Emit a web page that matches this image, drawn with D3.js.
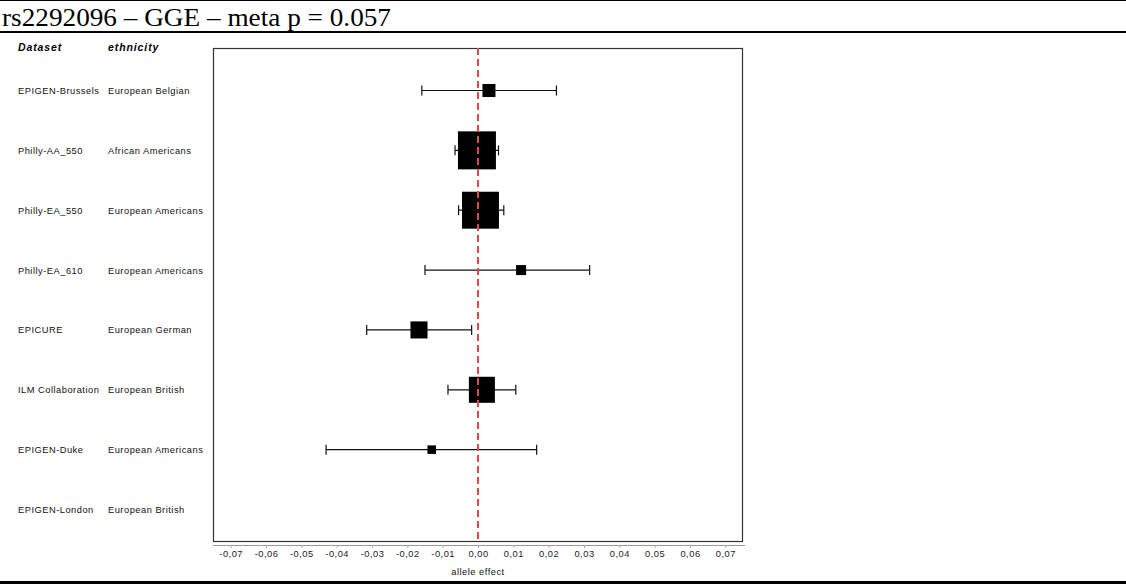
<!DOCTYPE html>
<html>
<head>
<meta charset="utf-8">
<script src="https://cdn.jsdelivr.net/npm/d3@7"></script>
<style>
html,body{margin:0;padding:0;background:#fff;}
svg{display:block;}
</style>
</head>
<body>
<svg id="chart" width="1126" height="584"></svg>
<script>
const titleText = "rs2292096 \u2013 GGE \u2013 meta p = 0.057";
const datasets = ["EPIGEN-Brussels","Philly-AA_550","Philly-EA_550","Philly-EA_610","EPICURE","ILM Collaboration","EPIGEN-Duke","EPIGEN-London"];
const ethnicities = ["European Belgian","African Americans","European Americans","European Americans","European German","European British","European Americans","European British"];
const effects = [0.0031, -0.0003, 0.0007, 0.0122, -0.0167, 0.0011, -0.0131, null];
const ciLow  = [-0.0159, -0.0065, -0.0055, -0.0150, -0.0315, -0.0085, -0.0430, null];
const ciHigh = [0.0222, 0.0058, 0.0073, 0.0316, -0.0018, 0.0107, 0.0166, null];
const weights = [8.7, 25.4, 24.7, 6.7, 11.4, 17.4, 5.7, null];
const tickValues = [-0.07,-0.06,-0.05,-0.04,-0.03,-0.02,-0.01,0,0.01,0.02,0.03,0.04,0.05,0.06,0.07];
const xLabel = "allele effect";

const svg = d3.select("#chart");
const W = 1126, H = 584;
const plot = {left:213, top:48, right:743, bottom:542};

const x = d3.scaleLinear().domain([-0.075, 0.075]).range([plot.left, plot.right]);
const y = d3.scalePoint().domain(datasets).range([90.5, 509.5]);
const size = d3.scaleLinear().domain([0, 25.4]).range([0, 38]);

// frame lines
svg.append("line").attr("x1",0).attr("x2",W).attr("y1",0.5).attr("y2",0.5).attr("stroke","#000").attr("stroke-width",1);
svg.append("line").attr("x1",0).attr("x2",W).attr("y1",32).attr("y2",32).attr("stroke","#000").attr("stroke-width",2);
svg.append("rect").attr("x",0).attr("y",581).attr("width",W).attr("height",3).attr("fill","#000");

// title
svg.append("text").attr("x",2).attr("y",26)
  .attr("font-family","'Liberation Serif','Times New Roman',serif").attr("font-size",24.5)
  .attr("textLength",389).attr("lengthAdjust","spacingAndGlyphs")
  .attr("fill","#000").text(titleText);

// column headers
const sansFont = "'Liberation Sans',Arial,sans-serif";
svg.append("text").attr("x",18).attr("y",51).attr("font-family",sansFont).attr("font-size",10.5)
  .attr("font-weight","bold").attr("font-style","italic").attr("letter-spacing","0.9px").text("Dataset");
svg.append("text").attr("x",108).attr("y",51).attr("font-family",sansFont).attr("font-size",10.5)
  .attr("font-weight","bold").attr("font-style","italic").attr("letter-spacing","0.9px").text("ethnicity");

// row labels
const rows = datasets.map((d,i)=>({name:d, eth:ethnicities[i], eff:effects[i], lo:ciLow[i], hi:ciHigh[i], w:weights[i]}));
const lab = svg.append("g").attr("font-family",sansFont).attr("font-size",9.3).attr("fill","#111").attr("letter-spacing","0.5px");
lab.selectAll("text.ds").data(rows).enter().append("text").attr("class","ds")
  .attr("x",18).attr("y",d=>y(d.name)+3.5).text(d=>d.name);
lab.selectAll("text.eth").data(rows).enter().append("text").attr("class","eth")
  .attr("x",108).attr("y",d=>y(d.name)+3.5).text(d=>d.eth);

// plot box
svg.append("rect").attr("x",plot.left+0.5).attr("y",plot.top+0.5)
  .attr("width",plot.right-plot.left-1).attr("height",plot.bottom-plot.top-1)
  .attr("fill","none").attr("stroke","#333").attr("stroke-width",1.2);

// axis
const fmt = d=>d3.format(".2f")(d).replace(".",",").replace("\u2212","-");
const axisG = svg.append("g").attr("transform",`translate(0,${plot.bottom+3})`);
const axis = d3.axisBottom(x).tickValues(tickValues).tickSize(3).tickSizeOuter(0).tickFormat(fmt);
axisG.call(axis);
axisG.select(".domain").attr("stroke","#999").attr("d",`M${plot.left},0.5H${plot.right+2}`);
axisG.selectAll(".tick line").attr("stroke","#aaa");
axisG.selectAll(".tick text").attr("font-family",sansFont).attr("font-size",9.3).attr("fill","#222")
  .attr("y",4).attr("dy","0.9em").attr("letter-spacing","0.5px").text(fmt);

svg.append("text").attr("x",x(0)).attr("y",575).attr("text-anchor","middle")
  .attr("font-family",sansFont).attr("font-size",9.3).attr("fill","#111").attr("letter-spacing","0.5px").text(xLabel);

// error bars
const dataRows = rows.filter(d=>d.eff!==null);
const eb = svg.append("g").attr("stroke","#111").attr("stroke-width",1.2);
eb.selectAll("line.ci").data(dataRows).enter().append("line")
  .attr("x1",d=>x(d.lo)).attr("x2",d=>x(d.hi)).attr("y1",d=>y(d.name)).attr("y2",d=>y(d.name));
eb.selectAll("line.capL").data(dataRows).enter().append("line")
  .attr("x1",d=>x(d.lo)).attr("x2",d=>x(d.lo)).attr("y1",d=>y(d.name)-5).attr("y2",d=>y(d.name)+5);
eb.selectAll("line.capR").data(dataRows).enter().append("line")
  .attr("x1",d=>x(d.hi)).attr("x2",d=>x(d.hi)).attr("y1",d=>y(d.name)-5).attr("y2",d=>y(d.name)+5);

// squares
svg.append("g").selectAll("rect").data(dataRows).enter().append("rect")
  .attr("x",d=>x(d.eff)-size(d.w)/2).attr("y",d=>y(d.name)-size(d.w)/2)
  .attr("width",d=>size(d.w)).attr("height",d=>size(d.w)).attr("fill","#000");

// reference line
svg.append("line").attr("x1",x(0)).attr("x2",x(0)).attr("y1",plot.top).attr("y2",plot.bottom)
  .attr("stroke","#e04848").attr("stroke-width",2).attr("stroke-dasharray","7,4");
</script>
</body>
</html>
